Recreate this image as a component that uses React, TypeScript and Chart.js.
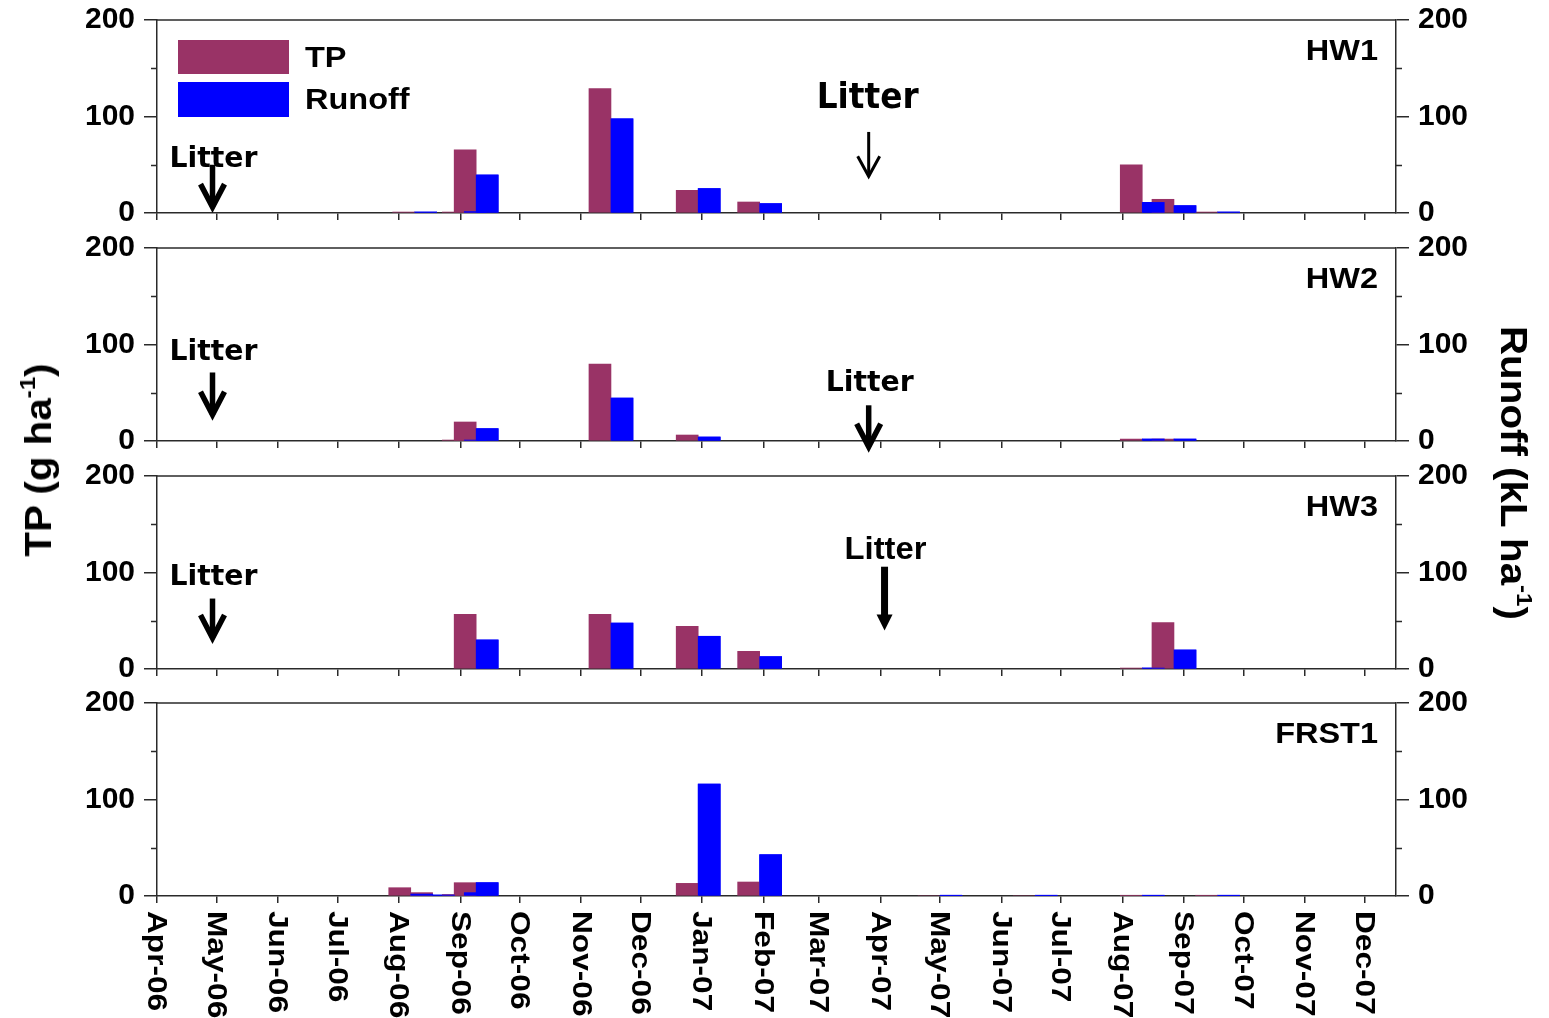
import React, { useEffect, useRef } from 'react';
import { Chart, registerables } from 'chart.js';

Chart.register(...registerables);

// ---------------- data ----------------
const MONTH_TICKS = [
  '2006-04-01', '2006-05-01', '2006-06-01', '2006-07-01', '2006-08-01', '2006-09-01', '2006-10-01',
  '2006-11-01', '2006-12-01', '2007-01-01', '2007-02-01', '2007-03-01', '2007-04-01', '2007-05-01',
  '2007-06-01', '2007-07-01', '2007-08-01', '2007-09-01', '2007-10-01', '2007-11-01', '2007-12-01',
];
const MONTH_LABELS = [
  'Apr-06', 'May-06', 'Jun-06', 'Jul-06', 'Aug-06', 'Sep-06', 'Oct-06', 'Nov-06', 'Dec-06', 'Jan-07',
  'Feb-07', 'Mar-07', 'Apr-07', 'May-07', 'Jun-07', 'Jul-07', 'Aug-07', 'Sep-07', 'Oct-07', 'Nov-07', 'Dec-07',
];
const X_START = '2006-04-01';
const X_END = '2007-12-17';
const Y_TICKS = [0, 50, 100, 150, 200];
const Y_LABELLED = [0, 100, 200];

const HW1_DATES = ['2006-08-09', '2006-09-03', '2006-09-09', '2006-11-16', '2006-12-30', '2007-01-30', '2007-08-11', '2007-08-27', '2007-09-18'];
const HW1_TP = [1, 1, 65.4, 129, 23.5, 11.4, 50, 14.2, 1];
const HW1_RUNOFF = [1, 1.5, 39.4, 97.6, 25.3, 9.7, 11, 7.6, 1];

const HW2_DATES = ['2006-09-03', '2006-09-09', '2006-11-16', '2006-12-30', '2007-08-11', '2007-08-27'];
const HW2_TP = [1, 19.7, 79.7, 6.2, 2, 2];
const HW2_RUNOFF = [1, 12.8, 44.5, 4.1, 2, 2];

const HW3_DATES = ['2006-09-09', '2006-11-16', '2006-12-30', '2007-01-30', '2007-08-11', '2007-08-27'];
const HW3_TP = [56.7, 56.7, 44.3, 18.3, 1, 48];
const HW3_RUNOFF = [30.1, 47.7, 33.9, 12.8, 1, 19.7];

const FRST1_DATES = ['2006-08-07', '2006-08-18', '2006-09-03', '2006-09-09', '2006-12-30', '2007-01-30', '2007-05-01', '2007-06-18', '2007-08-11', '2007-09-18'];
const FRST1_TP = [8.6, 3.5, 1.5, 13.8, 13.1, 14.5, 0, 0, 0.6, 0.6];
const FRST1_RUNOFF = [2, 1, 3.5, 13.8, 116, 42.8, 0.6, 0.6, 0.6, 0.6];

// "Litter" annotations: date, text level, arrow start level, arrow tip level (TP axis units)
const HW1_LITTER_DATES = ['2006-04-29', '2007-03-26'];
const HW1_LITTER_TEXT = [55, 118];
const HW1_LITTER_FROM = [50, 84];
const HW1_LITTER_TO = [3, 37];

const HW2_LITTER_DATES = ['2006-04-29', '2007-03-26'];
const HW2_LITTER_TEXT = [92, 59];
const HW2_LITTER_FROM = [71, 37];
const HW2_LITTER_TO = [24, -9];

const HW3_LITTER_DATES = ['2006-04-29', '2007-04-03'];
const HW3_LITTER_TEXT = [95, 123];
const HW3_LITTER_FROM = [73, 106];
const HW3_LITTER_TO = [29, 40];

const FRST1_LITTER_DATES: string[] = [];
const FRST1_LITTER_TEXT: number[] = [];
const FRST1_LITTER_FROM: number[] = [];
const FRST1_LITTER_TO: number[] = [];

const LEGEND_LABELS = ['TP', 'Runoff'];
const LEFT_TITLE = 'TP (g ha';
const RIGHT_TITLE = 'Runoff (kL ha';

// ---------------- styling / layout ----------------
const W = 1549;
const PANEL_TOPS = [20, 248, 476, 703];
const PLOT_H = 193;
const PLOT_LEFT = 157;
const PLOT_RIGHT = 1396;
const PAD = 30;
const CANVAS_H = PAD + PLOT_H + PAD;
const BOTTOM_CANVAS_H = 1018 - (PANEL_TOPS[3] - PAD);
const BAR_W = 22;
const TP_COLOR = '#993366';
const RUNOFF_COLOR = '#0000FF';
const AXIS = '#2a2a2a';
const FONT = "'Liberation Sans', Arial, Helvetica, sans-serif";
const COMIC = "'Comic Sans MS', 'DejaVu Sans', sans-serif";
const STRETCH = 1.12;

// per annotation: [text style, arrow style]
const LITTER_STYLES: [string, string][][] = [
  [['comic', 'chevron'], ['comicLarge', 'thin']],
  [['comic', 'chevron'], ['comic', 'chevron']],
  [['comic', 'chevron'], ['plain', 'filled']],
  [],
];

function dayOf(s: string): number {
  const [y, m, d] = s.split('-').map(Number);
  const [y0, m0, d0] = X_START.split('-').map(Number);
  return (Date.UTC(y, m - 1, d) - Date.UTC(y0, m0 - 1, d0)) / 86400000;
}

const PANELS = [
  { name: 'HW1', dates: HW1_DATES, tp: HW1_TP, runoff: HW1_RUNOFF, ld: HW1_LITTER_DATES, lt: HW1_LITTER_TEXT, lf: HW1_LITTER_FROM, lto: HW1_LITTER_TO },
  { name: 'HW2', dates: HW2_DATES, tp: HW2_TP, runoff: HW2_RUNOFF, ld: HW2_LITTER_DATES, lt: HW2_LITTER_TEXT, lf: HW2_LITTER_FROM, lto: HW2_LITTER_TO },
  { name: 'HW3', dates: HW3_DATES, tp: HW3_TP, runoff: HW3_RUNOFF, ld: HW3_LITTER_DATES, lt: HW3_LITTER_TEXT, lf: HW3_LITTER_FROM, lto: HW3_LITTER_TO },
  { name: 'FRST1', dates: FRST1_DATES, tp: FRST1_TP, runoff: FRST1_RUNOFF, ld: FRST1_LITTER_DATES, lt: FRST1_LITTER_TEXT, lf: FRST1_LITTER_FROM, lto: FRST1_LITTER_TO },
];

function stretchedText(ctx: CanvasRenderingContext2D, text: string, x: number, y: number, align: string, font: string, sx: number) {
  ctx.save();
  ctx.font = font;
  ctx.textBaseline = 'middle';
  ctx.textAlign = 'left';
  const w = ctx.measureText(text).width * sx;
  const x0 = align === 'right' ? x - w : align === 'center' ? x - w / 2 : x;
  ctx.translate(x0, y);
  ctx.scale(sx, 1);
  ctx.fillStyle = '#000';
  ctx.fillText(text, 0, 0);
  ctx.restore();
}

function fittedText(ctx: CanvasRenderingContext2D, text: string, cx: number, cy: number, font: string, width: number) {
  ctx.save();
  ctx.font = font;
  const m = ctx.measureText(text).width;
  ctx.restore();
  stretchedText(ctx, text, cx, cy, 'center', font, width / m);
}

function drawArrow(ctx: CanvasRenderingContext2D, x: number, y0: number, y1: number, kind: string) {
  ctx.save();
  ctx.strokeStyle = '#000';
  ctx.fillStyle = '#000';
  if (kind === 'filled') {
    ctx.lineWidth = 7;
    ctx.beginPath();
    ctx.moveTo(x, y0);
    ctx.lineTo(x, y1 - 15);
    ctx.stroke();
    ctx.beginPath();
    ctx.moveTo(x - 8, y1 - 16);
    ctx.lineTo(x + 8, y1 - 16);
    ctx.lineTo(x, y1);
    ctx.closePath();
    ctx.fill();
  } else {
    const thin = kind === 'thin';
    ctx.lineWidth = thin ? 3 : 5.5;
    ctx.lineJoin = 'miter';
    ctx.lineCap = 'butt';
    const hw = thin ? 11 : 12;
    const hl = thin ? 20 : 23;
    const tip = y1 - (thin ? 1 : 3);
    ctx.beginPath();
    ctx.moveTo(x, y0);
    ctx.lineTo(x, tip);
    ctx.stroke();
    ctx.beginPath();
    ctx.moveTo(x - hw, tip - hl);
    ctx.lineTo(x, tip);
    ctx.lineTo(x + hw, tip - hl);
    ctx.stroke();
  }
  ctx.restore();
}

function makePlugin(index: number) {
  const spec = PANELS[index];
  const isBottom = index === PANELS.length - 1;
  return {
    id: 'panelDecor',
    afterDatasetsDraw(chart: any) {
      // runoff bars are painted above the TP bars where they overlap
      const meta = chart.getDatasetMeta(1);
      if (meta && chart.isDatasetVisible(1)) {
        const ctx = chart.ctx;
        ctx.save();
        meta.controller.draw();
        ctx.restore();
      }
    },
    afterDraw(chart: any) {
      const ctx: CanvasRenderingContext2D = chart.ctx;
      const { left, right, top, bottom } = chart.chartArea;
      const ys = chart.scales.y;
      const xs = chart.scales.x;
      ctx.save();
      ctx.strokeStyle = AXIS;
      ctx.lineWidth = 1.5;
      ctx.beginPath();
      ctx.moveTo(left, top);
      ctx.lineTo(right, top);
      ctx.stroke();
      for (const v of Y_TICKS) {
        if (Y_LABELLED.includes(v)) continue;
        const py = Math.round(ys.getPixelForValue(v)) + 0.5;
        ctx.beginPath();
        ctx.moveTo(left - 6, py);
        ctx.lineTo(left, py);
        ctx.moveTo(right, py);
        ctx.lineTo(right + 6, py);
        ctx.stroke();
      }
      ctx.restore();

      // panel name
      stretchedText(ctx, spec.name, right - 18, top + 32, 'right', `bold 29px ${FONT}`, STRETCH);

      // legend (first panel)
      if (index === 0) {
        ctx.save();
        ctx.fillStyle = TP_COLOR;
        ctx.fillRect(left + 21, top + 20, 111, 34);
        ctx.fillStyle = RUNOFF_COLOR;
        ctx.fillRect(left + 21, top + 62, 111, 35);
        ctx.restore();
        stretchedText(ctx, LEGEND_LABELS[0], left + 148, top + 39, 'left', `bold 29px ${FONT}`, STRETCH);
        stretchedText(ctx, LEGEND_LABELS[1], left + 148, top + 81, 'left', `bold 29px ${FONT}`, STRETCH);
      }

      // litter annotations
      spec.ld.forEach((d, i) => {
        const [ts, as] = LITTER_STYLES[index][i];
        const x = xs.getPixelForValue(dayOf(d));
        const ty = ys.getPixelForValue(spec.lt[i]);
        if (ts === 'comic') fittedText(ctx, 'Litter', x + 1, ty, `bold 28px ${COMIC}`, 88);
        else if (ts === 'comicLarge') fittedText(ctx, 'Litter', x - 1, ty, `bold 35px ${COMIC}`, 102);
        else fittedText(ctx, 'Litter', x + 1, ty, `bold 31px ${FONT}`, 82);
        drawArrow(ctx, x, ys.getPixelForValue(spec.lf[i]), ys.getPixelForValue(spec.lto[i]), as);
      });

      // rotated month labels on the bottom panel
      if (isBottom) {
        ctx.save();
        ctx.font = `bold 28px ${FONT}`;
        ctx.fillStyle = '#000';
        ctx.textAlign = 'left';
        ctx.textBaseline = 'middle';
        MONTH_TICKS.forEach((d, i) => {
          const x = xs.getPixelForValue(dayOf(d));
          ctx.save();
          ctx.translate(x - 1, bottom + 15);
          ctx.rotate(Math.PI / 2);
          ctx.scale(1.13, 1);
          ctx.fillText(MONTH_LABELS[i], 0, 0);
          ctx.restore();
        });
        ctx.restore();
      }
    },
  };
}

function Panel({ index }: { index: number }) {
  const ref = useRef<HTMLCanvasElement>(null);
  const isBottom = index === PANELS.length - 1;
  const H = isBottom ? BOTTOM_CANVAS_H : CANVAS_H;
  useEffect(() => {
    const spec = PANELS[index];
    const canvas = ref.current!;
    const yAxis = (position: 'left' | 'right') => ({
      position,
      min: 0,
      max: 200,
      afterBuildTicks: (s: any) => {
        s.ticks = Y_TICKS.map((v) => ({ value: v }));
      },
      ticks: {
        autoSkip: false,
        callback: (v: any) => (Y_LABELLED.includes(Number(v)) ? String(v) : ''),
        font: { family: FONT, size: 30, weight: 'bold' },
        color: '#000',
        padding: 9,
      },
      grid: {
        drawOnChartArea: false,
        tickLength: 13,
        lineWidth: 1.5,
        color: (c: any) => (c.tick && Y_LABELLED.includes(c.tick.value) ? AXIS : 'rgba(0,0,0,0)'),
      },
      border: { display: true, color: AXIS, width: 1.5 },
      afterFit: (s: any) => {
        s.width = position === 'left' ? PLOT_LEFT : W - PLOT_RIGHT;
      },
    });
    const chart = new Chart(canvas, {
      type: 'bar',
      data: {
        datasets: [
          {
            label: LEGEND_LABELS[0],
            data: spec.dates.map((d, i) => ({ x: dayOf(d), y: spec.tp[i] })),
            backgroundColor: TP_COLOR,
            borderWidth: 0,
            barThickness: BAR_W,
            yAxisID: 'y',
          },
          {
            label: LEGEND_LABELS[1],
            data: spec.dates.map((d, i) => ({ x: dayOf(d), y: spec.runoff[i] })),
            backgroundColor: RUNOFF_COLOR,
            borderWidth: 0,
            barThickness: BAR_W,
            yAxisID: 'y1',
          },
        ],
      },
      options: {
        animation: false,
        responsive: false,
        devicePixelRatio: 1,
        layout: { padding: { top: PAD, left: 0, right: 0, bottom: 0 } },
        plugins: { legend: { display: false }, tooltip: { enabled: false }, title: { display: false } },
        scales: {
          x: {
            type: 'linear',
            min: dayOf(X_START),
            max: dayOf(X_END),
            offset: false,
            afterBuildTicks: (s: any) => {
              s.ticks = MONTH_TICKS.map((d) => ({ value: dayOf(d) }));
            },
            ticks: { display: false },
            grid: { drawOnChartArea: false, offset: false, tickLength: 7, lineWidth: 1.5, color: AXIS },
            border: { display: true, color: AXIS, width: 1.5 },
            afterFit: (s: any) => {
              s.height = H - PAD - PLOT_H;
            },
          },
          y: yAxis('left'),
          y1: yAxis('right'),
        },
      } as any,
      plugins: [makePlugin(index)],
    });
    return () => chart.destroy();
  }, [index]);
  return (
    <canvas
      ref={ref}
      width={W}
      height={H}
      style={{ position: 'absolute', left: 0, top: PANEL_TOPS[index] - PAD, width: W, height: H }}
    />
  );
}

export default function App() {
  const titleStyle: React.CSSProperties = {
    position: 'absolute',
    font: `bold 36px ${FONT}`,
    color: '#000',
    whiteSpace: 'nowrap',
    lineHeight: 1,
  };
  const sup: React.CSSProperties = { fontSize: '0.6em', verticalAlign: '0.75em', lineHeight: 0 };
  return (
    <div style={{ position: 'absolute', left: 0, top: 0, width: W, height: 1018, background: '#fff', overflow: 'hidden' }}>
      {PANELS.map((p, i) => (
        <Panel key={p.name} index={i} />
      ))}
      <div style={{ ...titleStyle, left: 39, top: 460, transform: `translate(-50%, -50%) rotate(-90deg) scaleX(${STRETCH})` }}>
        {LEFT_TITLE}
        <span style={sup}>-1</span>)
      </div>
      <div style={{ ...titleStyle, left: 1513, top: 473, transform: `translate(-50%, -50%) rotate(90deg) scaleX(${STRETCH})` }}>
        {RIGHT_TITLE}
        <span style={sup}>-1</span>)
      </div>
    </div>
  );
}
